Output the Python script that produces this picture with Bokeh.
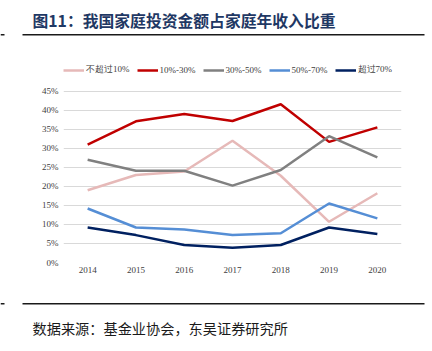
from bokeh.plotting import figure
from bokeh.layouts import column
from bokeh.models import (FactorRange, Range1d, Legend, LegendItem, Label,
                          BoxAnnotation, PrintfTickFormatter, FixedTicker)
from bokeh.embed import file_html
from bokeh.resources import INLINE

years = ["2014", "2015", "2016", "2017", "2018", "2019", "2020"]
s_le10 = [19.0, 23.0, 23.9, 32.0, 22.8, 10.7, 18.2]
s_10_30 = [31.0, 37.1, 39.0, 37.2, 41.6, 31.7, 35.5]
s_30_50 = [27.0, 24.1, 24.1, 20.2, 24.3, 33.2, 27.6]
s_50_70 = [14.2, 9.2, 8.7, 7.2, 7.7, 15.5, 11.6]
s_gt70 = [9.2, 7.2, 4.6, 3.9, 4.6, 9.2, 7.5]
series_names = ["不超过10%", "10%-30%", "30%-50%", "50%-70%", "超过70%"]
colors = ["#e6b9b8", "#c00000", "#808080", "#558ed5", "#002060"]
y_ticks = [0, 5, 10, 15, 20, 25, 30, 35, 40, 45]
title_text = "图11：我国家庭投资金额占家庭年收入比重"
source_text = "数据来源：基金业协会，东吴证券研究所"

W = 432
TOP_H, MAIN_H, BOT_H = 50, 245, 56
Y_MAX = 54.4  # frame extends above 45% so the legend sits inside the frame


def blank_fig(h):
    f = figure(width=W, height=h, output_backend="svg", toolbar_location=None,
               x_axis_location=None, y_axis_location=None,
               x_range=Range1d(0, W), y_range=Range1d(0, h),
               min_border=0, min_border_left=0, min_border_right=0,
               min_border_top=0, min_border_bottom=0, frame_align=False)
    f.outline_line_color = None
    f.grid.grid_line_color = None
    f.background_fill_color = "white"
    f.border_fill_color = "white"
    return f


def rule(f, h, y, x0, x1, th=1.6):
    f.add_layout(BoxAnnotation(left=x0, right=x1, top=h - (y - th / 2), bottom=h - (y + th / 2),
                               left_units="screen", right_units="screen",
                               top_units="screen", bottom_units="screen",
                               fill_color="#1a1a1a", fill_alpha=1, line_color=None))


# --- top: title + rule
top = blank_fig(TOP_H)
top.add_layout(Label(x=32, y=TOP_H - 19.5, x_units="screen", y_units="screen", text=title_text,
                     text_font="Noto Sans CJK SC", text_font_style="bold", text_font_size="15.8px",
                     text_color="#1f3864", text_baseline="middle", text_align="left"))
rule(top, TOP_H, 34.3, 22, 424)
rule(top, TOP_H, 34.3, 0, 4)

# --- main chart
p = figure(width=W, height=MAIN_H, x_range=FactorRange(*years), y_range=Range1d(0, Y_MAX),
           output_backend="svg", toolbar_location=None, frame_align=False,
           min_border_left=63, min_border_right=31, min_border_top=5, min_border_bottom=33)
p.outline_line_color = None
p.background_fill_color = "white"
p.border_fill_color = "white"

renderers = []
for vals, c in zip([s_le10, s_10_30, s_30_50, s_50_70, s_gt70], colors):
    renderers.append(p.line(years, vals, line_color=c, line_width=2.5))

p.xgrid.grid_line_color = None
p.ygrid.grid_line_color = "#d9d9d9"
p.ygrid.grid_line_width = 1
p.yaxis.ticker = FixedTicker(ticks=y_ticks)
p.ygrid.ticker = FixedTicker(ticks=y_ticks)
p.yaxis.formatter = PrintfTickFormatter(format="%d%%")
for ax in (p.xaxis, p.yaxis):
    ax.axis_line_color = None
    ax.major_tick_line_color = None
    ax.minor_tick_line_color = None
    ax.major_tick_in = 0
    ax.major_tick_out = 0
    ax.major_label_text_font = "Liberation Serif"
    ax.major_label_text_font_size = "9px"
    ax.major_label_text_color = "#404040"
p.yaxis.major_label_standoff = 5
p.xaxis.major_label_standoff = 4

legend = Legend(items=[LegendItem(label=n, renderers=[r]) for n, r in zip(series_names, renderers)],
                orientation="horizontal", location=(0, 186),
                glyph_width=21, glyph_height=10, label_standoff=2, spacing=7,
                padding=0, margin=0, border_line_color=None, background_fill_alpha=0,
                label_text_font="Liberation Serif", label_text_font_size="9px",
                label_text_color="#404040", label_height=10)
p.add_layout(legend, "center")

# --- bottom: rule + source
bot = blank_fig(BOT_H)
rule(bot, BOT_H, 8.3, 22, 424)
rule(bot, BOT_H, 8.3, 0, 4)
bot.add_layout(Label(x=32, y=BOT_H - 32.5, x_units="screen", y_units="screen", text=source_text,
                     text_font="Noto Sans CJK SC", text_font_size="14.2px",
                     text_color="#1a1a1a", text_baseline="middle", text_align="left"))

layout = column(top, p, bot, spacing=0)
open("out.html", "w").write(file_html(layout, INLINE))
